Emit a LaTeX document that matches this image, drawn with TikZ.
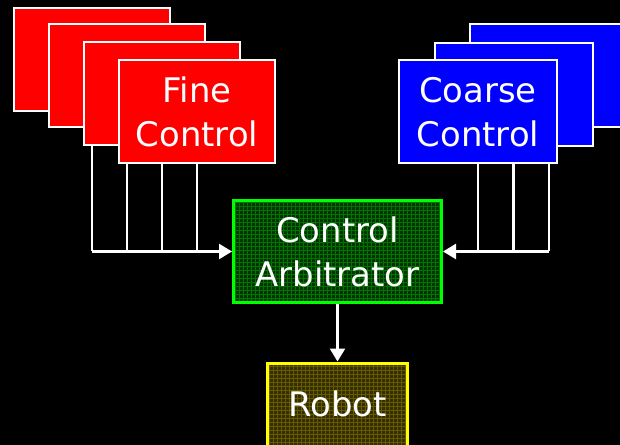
\documentclass[tikz,border=0pt]{standalone}
\usepackage{fontspec}
\setmainfont{DejaVu Sans}
\usetikzlibrary{arrows.meta}
\pgfdeclarelayer{bg}
\pgfdeclarelayer{wires}
\pgfsetlayers{bg,wires,main}
\definecolor{finered}{RGB}{255,0,0}
\definecolor{coarseblue}{RGB}{0,0,255}
\definecolor{arbfill}{RGB}{0,52,0}
\definecolor{arbgrid}{RGB}{0,115,0}
\definecolor{arbline}{RGB}{0,255,0}
\definecolor{robfill}{RGB}{52,46,0}
\definecolor{robgrid}{RGB}{100,90,0}
\definecolor{robline}{RGB}{255,255,0}
\tikzset{
  x=1bp, y=-1bp,
  bigfont/.style={font=\fontsize{34}{44}\selectfont},
  ctrlbox/.style={draw=white, line width=2bp, minimum width=156bp, minimum height=103bp,
    inner sep=0pt, text=white, align=center, bigfont},
  finebox/.style={ctrlbox, fill=finered},
  coarsebox/.style={ctrlbox, fill=coarseblue, minimum width=158bp},
  wire/.style={draw=white, line width=2.4bp},
  arrowwire/.style={wire, -{Triangle[length=13bp,width=15bp]}},
}
\begin{document}
\begin{tikzpicture}
\begin{pgfonlayer}{bg}
  \fill[black] (0,0) rectangle (620,445);
\end{pgfonlayer}
\useasboundingbox (0,0) rectangle (620,445);

% Fine control stack
\node[finebox] (f1) at (92,59.5) {};
\node[finebox] (f2) at (127,76) {};
\node[finebox] (f3) at (162,94) {};
\node[finebox] (f4) at (197,111.5) {Fine\\Control};

% Coarse control stack
\node[coarsebox] (c3) at (549,75.5) {};
\node[coarsebox] (c2) at (513.5,94.5) {};
\node[coarsebox] (c1) at (478,112) {Coarse\\Control};

% Arbiter
\node[line width=3bp, draw=arbline, fill=arbfill, minimum width=208bp, minimum height=102bp,
      inner sep=0pt, text=white, align=center, bigfont,
      path picture={\draw[arbgrid, line width=0.9bp, step=4bp]
        ([shift={(-2bp,-2bp)}]path picture bounding box.south west) grid
        ([shift={(2bp,2bp)}]path picture bounding box.north east);}]
  (arb) at (337.5,251.5) {Control\\Arbitrator};

% Robot
\node[line width=3bp, draw=robline, fill=robfill, minimum width=140bp, minimum height=86bp,
      inner sep=0pt, text=white, align=center, bigfont,
      path picture={\draw[robgrid, line width=0.9bp, step=4bp]
        ([shift={(-2bp,-2bp)}]path picture bounding box.south west) grid
        ([shift={(2bp,2bp)}]path picture bounding box.north east);}]
  (robot) at (337.5,406) {};
\node[text=white, bigfont, inner sep=0pt, anchor=base] (robottxt) at (337.5,416) {Robot};

% wires behind the boxes
\begin{pgfonlayer}{wires}
  \coordinate (fj) at (f1.center |- arb.west);
  \draw[wire] (f1.center) -- (fj);
  \draw[wire] (f2.center) -- (f2.center |- arb.west);
  \draw[wire] (f3.center) -- (f3.center |- arb.west);
  \draw[wire] (f4.center) -- (f4.center |- arb.west);
  \draw[arrowwire] (fj) -- (arb.west);
  \coordinate (cj) at (c3.center |- arb.east);
  \draw[wire] (c1.center) -- (c1.center |- arb.east);
  \draw[wire] (c2.center) -- (c2.center |- arb.east);
  \draw[wire] (c3.center) -- (cj);
  \draw[arrowwire] (cj) -- (arb.east);
\end{pgfonlayer}
\draw[arrowwire] (arb.south) -- (robot.north);
\end{tikzpicture}
\end{document}
